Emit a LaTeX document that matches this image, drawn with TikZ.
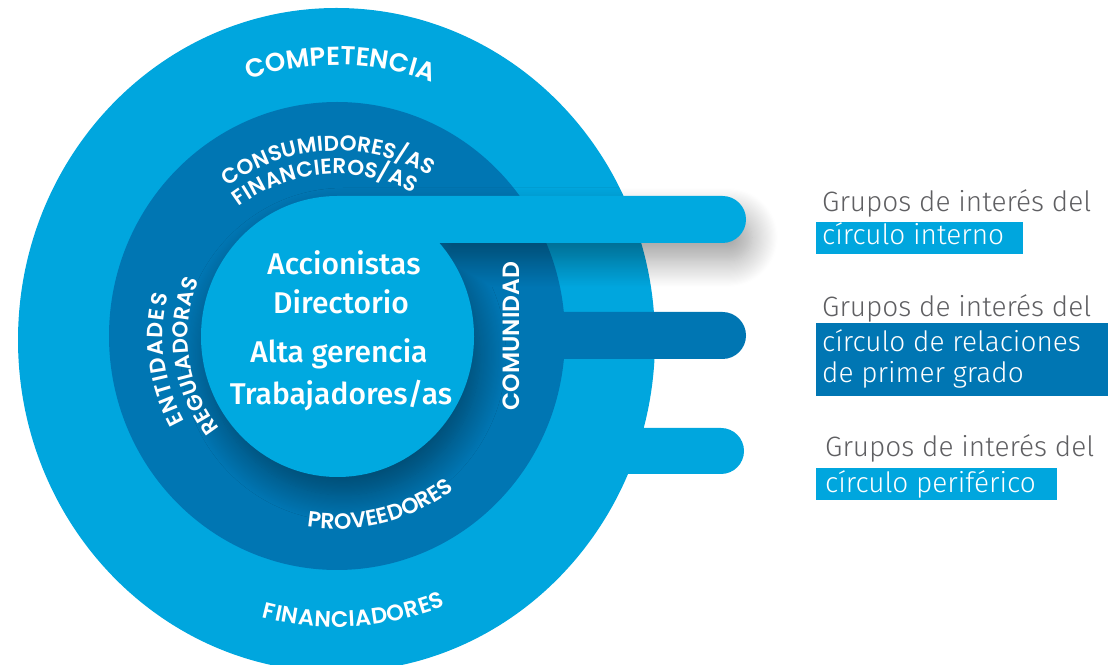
\documentclass[tikz,border=0pt]{standalone}
\usepackage{fontspec}
\setmainfont{Fira Sans}
\newfontfamily\lightfont{Fira Sans Light}
\newfontfamily\medfont{Fira Sans Medium}
\newfontfamily\ringfont{Poppins SemiBold}
\usetikzlibrary{decorations.text,shadows.blur}
\definecolor{lightb}{RGB}{0,166,222}
\definecolor{darkb}{RGB}{0,118,179}
\definecolor{innerb}{RGB}{0,169,224}
\definecolor{greytext}{RGB}{95,95,98}
\tikzset{
  ringlabel/.style={decorate, decoration={text along path, text align={fit to path}, text={#1}}},
  centertxt/.style={text=white, font=\medfont\fontsize{30}{30}\selectfont, anchor=base, inner sep=0pt},
  grouptxt/.style={text=greytext, font=\lightfont\fontsize{28}{28}\selectfont, anchor=base west, inner sep=0pt},
  hltxt/.style={text=white, font=\lightfont\fontsize{28}{28}\selectfont, anchor=base west, inner sep=0pt},
}
\newcommand{\rl}[1]{\ringfont\fontsize{#1}{#1}\selectfont\color{white}}
\begin{document}
\begin{tikzpicture}[x=1pt,y=1pt]
\useasboundingbox (0,0) rectangle (1108,664);
\clip (0,0) rectangle (1108,664);
\coordinate (O) at (337,327);
% outer ring and its bar
\fill[lightb] (336.5,324) ellipse [x radius=318.5, y radius=332];
\fill[lightb] (600,190) -- (721,190) arc[start angle=-90, end angle=90, radius=23] -- (600,236) -- cycle;
% middle ring and its bar
\fill[darkb] (337,328) ellipse [x radius=228, y radius=234];
\fill[darkb] (500,305) -- (722.5,305) arc[start angle=-90, end angle=90, radius=23.5] -- (500,352) -- cycle;
% inner circle and its bar, with shadow
\fill[innerb, blur shadow={shadow xshift=6pt, shadow yshift=-18pt, shadow blur radius=26pt, shadow blur steps=24, shadow opacity=38}]
  (337.5,327.5) ellipse [x radius=136.5, y radius=140.5]
  (337,421) -- (722.5,421) arc[start angle=-90, end angle=90, radius=23.5] -- (337,468) -- cycle;
% ring labels
\path[ringlabel={|\rl{26}|COMPETENCIA}] ([shift={(109:272)}]O) arc[start angle=109, end angle=70, radius=272];
\path[ringlabel={|\rl{22.5}|FINANCIADORES}] ([shift={(255:290)}]O) arc[start angle=255, end angle=292, radius=290];
\path[ringlabel={|\rl{21.5}|CONSUMIDORES/AS}] ([shift={(126:186)}]O) arc[start angle=126, end angle=60, radius=186];
\path[ringlabel={|\rl{21.5}|FINANCIEROS/AS}] ([shift={(127:163)}]O) arc[start angle=127, end angle=62, radius=163];
\path[ringlabel={|\rl{22}|PROVEEDORES}] ([shift={(261:192)}]O) arc[start angle=261, end angle=306, radius=192];
\path[ringlabel={|\rl{22}|ENTIDADES}] ([shift={(209:174)}]O) arc[start angle=209, end angle=166, radius=174];
\path[ringlabel={|\rl{21.5}|REGULADORAS}] ([shift={(218:149)}]O) arc[start angle=218, end angle=160, radius=149];
\node[text=white, font=\ringfont\fontsize{23.5}{23.5}\selectfont, rotate=90, inner sep=0pt] (comunidad) at (511,328) {COMUNIDAD};
% centre text
\node[centertxt] (acc) at (344,389) {Accionistas};
\node[centertxt] (dir) at (341,350) {Directorio};
\node[centertxt] (alta) at (339,301) {Alta gerencia};
\node[centertxt] (trab) at (341,259) {Trabajadores/as};
% legend
\fill[lightb] (816,410) rectangle (1023,442);
\fill[darkb] (816,268) rectangle (1108,341);
\fill[lightb] (816,164) rectangle (1057,196);
\node[grouptxt] (g1) at (822,452) {Grupos de interés del};
\node[hltxt] (h1) at (822,419) {círculo interno};
\node[grouptxt] (g2) at (822,347) {Grupos de interés del};
\node[hltxt] (h2a) at (822,312) {círculo de relaciones};
\node[hltxt] (h2b) at (822,281) {de primer grado};
\node[grouptxt] (g3) at (825,207) {Grupos de interés del};
\node[hltxt] (h3) at (825,171) {círculo periférico};
\end{tikzpicture}
\end{document}
